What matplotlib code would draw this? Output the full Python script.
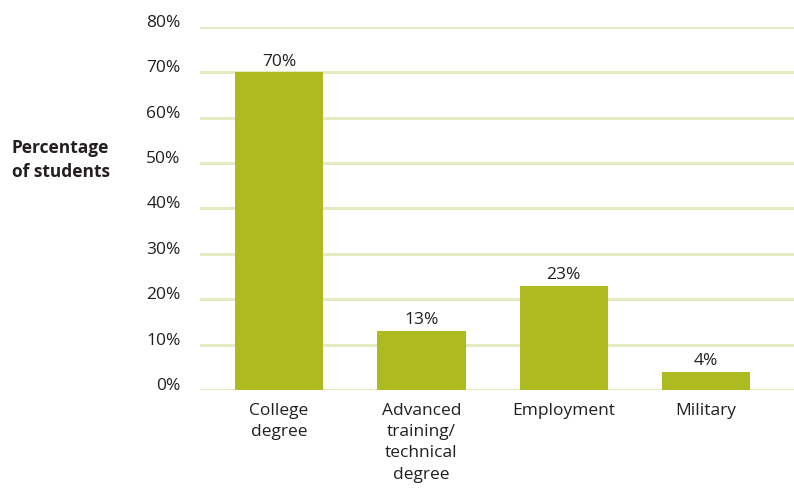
import matplotlib
matplotlib.use("Agg")
import matplotlib.pyplot as plt
import matplotlib.transforms as mtransforms

categories = ["College\ndegree", "Advanced\ntraining/\ntechnical\ndegree", "Employment", "Military"]
values = [70, 13, 23, 4]
y_ticks = [0, 10, 20, 30, 40, 50, 60, 70, 80]
y_tick_labels = ["0%", "10%", "20%", "30%", "40%", "50%", "60%", "70%", "80%"]

bar_color = "#adbb21"
grid_color = "#e4eac2"
text_color = "#231f20"

plt.rcParams["font.family"] = ["Open Sans", "DejaVu Sans"]

fig = plt.figure(figsize=(7.94, 4.95), dpi=100)
ax = fig.add_axes([0.252, 0.2121, 0.748, 0.7334])

x = list(range(len(categories)))
ax.bar(x, values, width=0.62, color=bar_color, zorder=2)
for xi, v in zip(x, values):
    ax.text(xi, v + 0.6, f"{v}%", ha="center", va="bottom", fontsize=12.5, color=text_color)

ax.set_ylim(0, 80)
ax.set_xlim(-0.555, 3.618)
ax.set_yticks(y_ticks)
ax.set_yticklabels(y_tick_labels, fontsize=12.5, color=text_color)
ax.set_xticks(x)
ax.set_xticklabels(categories, fontsize=12.5, color=text_color, linespacing=1.45, va="top")
ax.tick_params(axis="both", length=0)
ax.tick_params(axis="y", pad=14)
ax.tick_params(axis="x", pad=9)

# lift the percentage labels slightly above their gridlines
lift = mtransforms.ScaledTranslation(0, 6 / 100, fig.dpi_scale_trans)
for lbl in ax.get_yticklabels():
    lbl.set_transform(lbl.get_transform() + lift)

for y in y_ticks:
    ax.axhline(y, color=grid_color, linewidth=2.2, zorder=1)

for s in ax.spines.values():
    s.set_visible(False)

fig.text(0.015, 0.677, "Percentage\nof students", fontsize=12.5, fontweight="bold",
         color=text_color, ha="left", va="center", linespacing=1.45)

fig.savefig("out.png", dpi=100)
